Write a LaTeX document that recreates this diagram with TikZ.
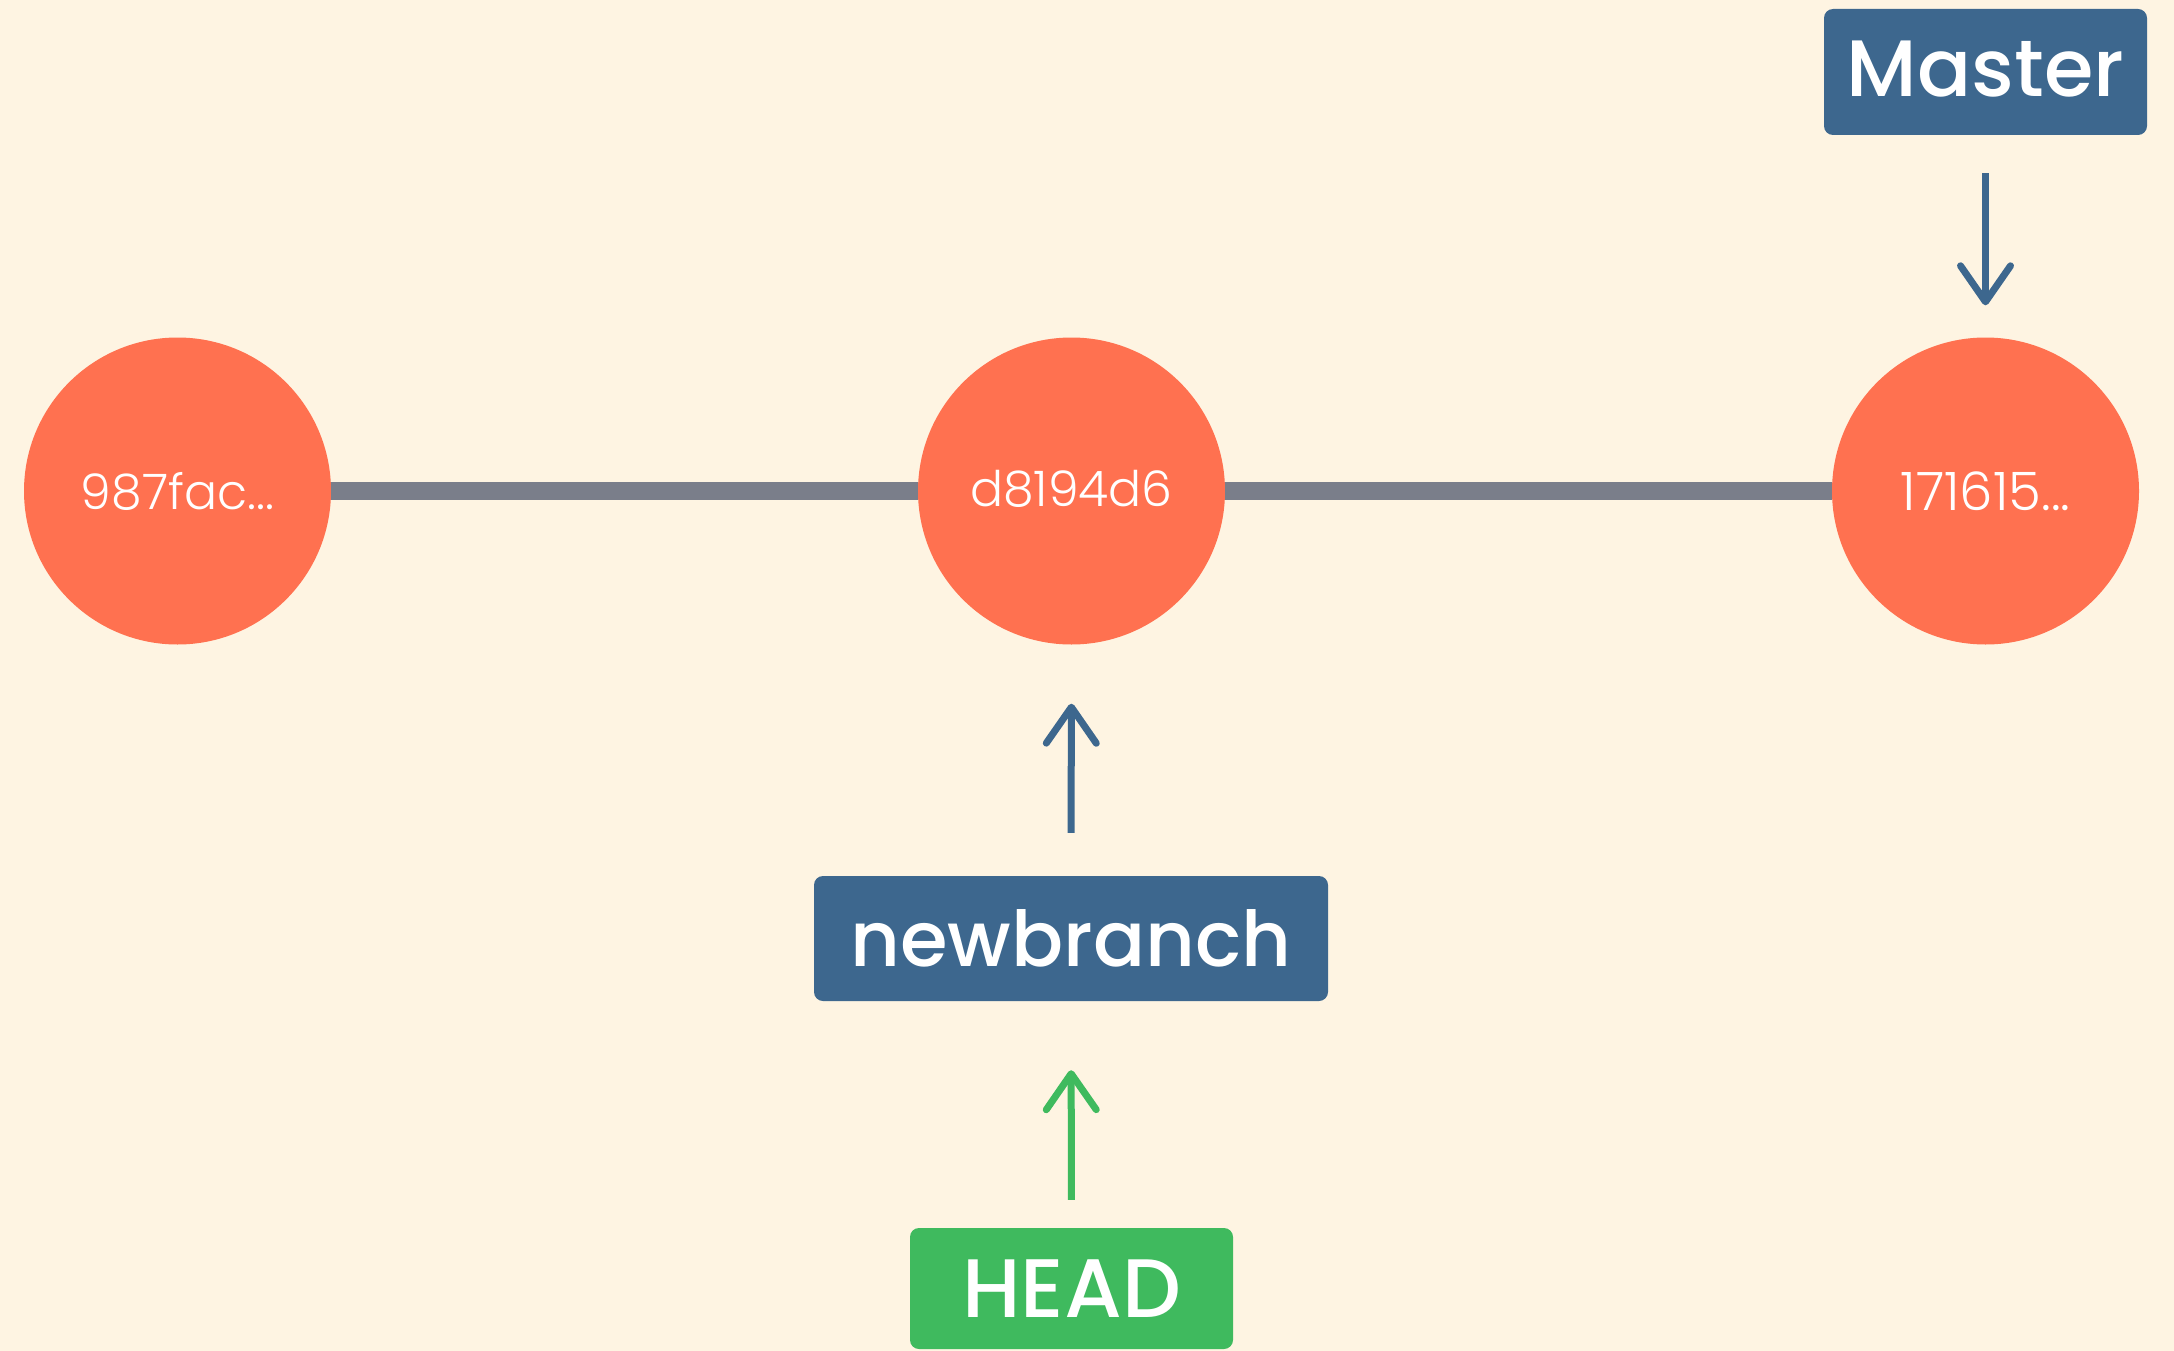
\documentclass[tikz,border=0pt]{standalone}
\usepackage{fontspec}
\setmainfont{Poppins}
\newfontfamily\hashfont{Poppins Light}
\newfontfamily\labelfont{Poppins Medium}
\usetikzlibrary{arrows.meta}
\definecolor{bgc}{HTML}{FEF4E2}
\definecolor{commitc}{HTML}{FF7150}
\definecolor{branchc}{HTML}{3D678E}
\definecolor{headc}{HTML}{3FBA5E}
\definecolor{linkc}{HTML}{7A7E8A}
\tikzset{
  commit/.style={circle, fill=commitc, draw=none, minimum size=307pt, inner sep=0pt, text=white, font=\hashfont\fontsize{49}{56}\selectfont},
  branchbox/.style={rectangle, rounded corners=9pt, fill=branchc, draw=none, text=white, inner sep=0pt, font=\labelfont\fontsize{80}{90}\selectfont},
  headbox/.style={branchbox, fill=headc},
  link/.style={draw=linkc, line width=18pt},
  ptr/.style={line width=7pt, -{Straight Barb[length=36pt, width=50pt, round]}},
}
\begin{document}
\begin{tikzpicture}[x=1pt, y=-1pt]
\fill[bgc] (0,0) rectangle (2174,1351);
\node[commit] (c1) at (177.5,491) {987fac...};
\node[commit] (c2) at (1071.5,491) {\raisebox{6pt}{d8194d6}};
\node[commit] (c3) at (1985.5,491) {\fontsize{53}{60}\selectfont 171615...};
\draw[link] (c1) -- (c2);
\draw[link] (c2) -- (c3);
\node[branchbox, minimum width=323pt, minimum height=126pt] (master) at (1985.5,72) {\raisebox{6pt}{Master}};
\node[branchbox, minimum width=514pt, minimum height=125pt, font=\labelfont\fontsize{77}{86}\selectfont] (nb) at (1071,938.5) {newbranch};
\node[headbox, minimum width=323pt, minimum height=121pt, font=\labelfont\fontsize{83}{92}\selectfont] (head) at (1071.5,1288.5) {HEAD};
\draw[ptr, draw=branchc, shorten <=38pt, shorten >=32pt] (master.south) -- (c3.north);
\draw[ptr, draw=branchc, shorten <=43pt, shorten >=59pt] (nb.north) -- (c2.south);
\draw[ptr, draw=headc, shorten <=28pt, shorten >=69pt] (head.north) -- (nb.south);
\end{tikzpicture}
\end{document}
